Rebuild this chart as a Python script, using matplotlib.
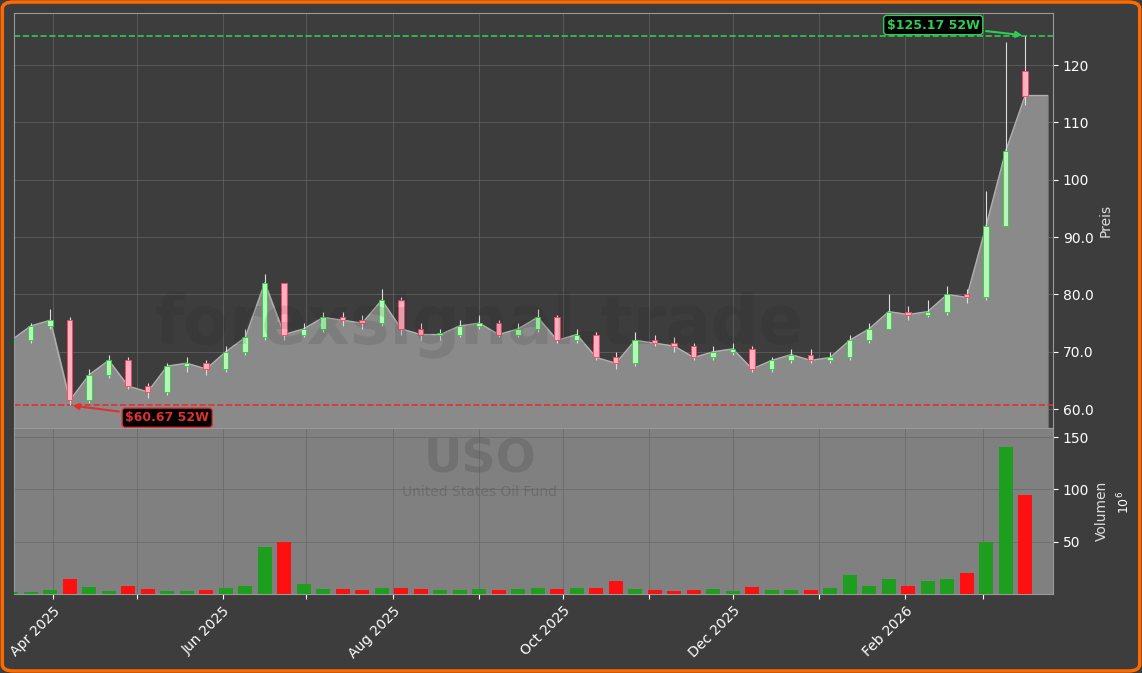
import matplotlib
matplotlib.use("Agg")
import matplotlib.pyplot as plt
import matplotlib.dates as mdates
import pandas as pd
import numpy as np
from matplotlib.patches import FancyBboxPatch

dates = pd.date_range("2025-03-17", periods=53, freq="W-MON")
close = [72, 74.5, 75.5, 61.5, 66, 68.5, 64, 63, 67.5, 68, 67, 70, 72.5, 82, 73, 74, 76, 75.5, 75, 79,
         74, 73, 73, 74.5, 75, 73, 74, 76, 72, 73, 69, 68, 72, 71.5, 71, 69, 70, 70.5, 67, 68.5,
         69.5, 68.5, 69, 72, 74, 77, 76.5, 77, 80, 79.5, 92, 105, 114.7]
opens = [71.5, 72, 74.5, 75.5, 61.5, 66, 68.5, 64, 63, 67.5, 68, 67, 70, 72.5, 82, 73, 74, 76, 75.5, 75,
         79, 74, 73, 73, 74.5, 75, 73, 74, 76, 72, 73, 69, 68, 72, 71.5, 71, 69, 70, 70.5, 67,
         68.5, 69.5, 68.5, 69, 72, 74, 77, 76.5, 77, 80, 79.5, 92, 119]
highs = [73, 75, 77.5, 76, 67, 69.5, 69, 64.5, 68, 69, 68.5, 71, 74, 83.5, 82, 75, 77, 77, 76.5, 81,
         79.5, 75, 74, 75.5, 76.5, 75.5, 75, 77.5, 76.5, 74, 73.5, 70, 73.5, 73, 72.5, 71.5, 71, 71.5, 71, 69,
         70.5, 70.5, 70, 73, 75, 80, 78, 79, 81.5, 81, 98, 124, 125.17]
lows = [71, 71.5, 74, 60.67, 61, 65.5, 63.5, 62, 62.5, 66.5, 66, 66.5, 69.5, 72, 72, 72.5, 73.5, 74.5, 74, 74.5,
        73, 72, 72, 72.5, 74, 72.5, 72.5, 73.5, 71.5, 71.5, 68.5, 67, 67.5, 71, 70, 68.5, 68.5, 69.5, 66.5, 66.5,
        68, 68, 68, 68.5, 71.5, 74, 75.5, 76, 76.5, 78.5, 79, 94, 113]
volume = [2, 2, 4, 14, 7, 3, 8, 5, 3, 3, 4, 6, 8, 45, 50, 10, 5, 5, 4, 6,
          6, 5, 4, 4, 5, 4, 5, 6, 5, 6, 6, 12, 5, 4, 3, 4, 5, 3, 7, 4,
          4, 4, 6, 18, 8, 14, 8, 12, 14, 20, 50, 140, 95]

BG = "#3d3d3d"
fig = plt.figure(figsize=(11.42, 6.73), dpi=100, facecolor=BG)
ax = fig.add_axes([14/1142, 1-428/673, 1039/1142, 415/673])
axv = fig.add_axes([14/1142, 1-594/673, 1039/1142, 166/673], sharex=ax)
ax.set_facecolor(BG)
axv.set_facecolor("#808080")

xmin = pd.Timestamp("2025-03-18"); xmax = pd.Timestamp("2026-03-26")
ax.set_xlim(xmin, xmax)
ax.set_ylim(56.7, 129.1)
axv.set_ylim(0, 158.6)

fill_x = list(dates) + [dates[-1] + pd.Timedelta(days=8)]
fill_y = close + [close[-1]]
ax.fill_between(fill_x, fill_y, 0, color="#8a8a8a", zorder=1)
ax.plot(fill_x, fill_y, color="#b0b0b0", lw=1, zorder=2)

for d, o, h, l, c in zip(dates, opens, highs, lows, close):
    up = c >= o
    col = "#2ecc40" if up else "#ff4060"
    fc = "#b8f5b8" if up else "#ffb0c0"
    ax.vlines(d, l, h, color="#dddddd", lw=0.8, zorder=3)
    ax.bar(d, abs(c - o) if abs(c - o) > 0.3 else 0.3, bottom=min(o, c), width=2.0,
           color=fc, edgecolor=col, lw=0.6, zorder=4)

vcols = ["#1e9e1e" if c >= o else "#ff1010" for o, c in zip(opens, close)]
axv.bar(dates, volume, width=5, color=vcols, zorder=3)

for a in (ax, axv):
    a.grid(True, color="#666666", lw=0.6, alpha=0.8)
    a.yaxis.tick_right()
    a.yaxis.set_label_position("right")
    a.tick_params(colors="white", labelsize=10)
    for s in a.spines.values():
        s.set_color("#999999")
ax.set_axisbelow(True)
ax.tick_params(axis="x", labelbottom=False)
ax.set_yticks([60, 70, 80, 90, 100, 110, 120])
ax.set_yticklabels(["60.0", "70.0", "80.0", "90.0", "100", "110", "120"])
ax.set_ylabel("Preis", color="#dddddd", fontsize=10)
axv.set_yticks([50, 100, 150])
axv.set_ylabel("Volumen", color="#dddddd", fontsize=10)
axv.text(1.06, 0.55, r"$10^6$", transform=axv.transAxes, rotation=90, color="white", fontsize=9, va="center")

loc = mdates.MonthLocator()
ticks = loc.tick_values(xmin, xmax)
labels = []
for t in ticks:
    dt = mdates.num2date(t)
    labels.append(dt.strftime("%b %Y") if dt.month % 2 == 0 else "")
axv.set_xticks(ticks)
axv.set_xticklabels(labels, rotation=45, ha="right", rotation_mode="anchor")
axv.set_xlim(xmin, xmax)

# max/min
ax.axhline(125.17, color="#2ecc55", ls="--", lw=1.2)
ax.axhline(60.67, color="#e03030", ls="--", lw=1.2)
ax.annotate("$125.17 52W", xy=(dates[-1], 125.17), xytext=(pd.Timestamp("2026-02-11"), 127.0),
            color="#2ecc55", fontsize=9, fontweight="bold", ha="center", va="center",
            bbox=dict(boxstyle="round,pad=0.25", fc="black", ec="#2ecc55"),
            arrowprops=dict(arrowstyle="-|>", color="#2ecc55", lw=1.5))
ax.annotate("$60.67 52W", xy=(dates[3], 60.67), xytext=(pd.Timestamp("2025-05-12"), 58.5),
            color="#e03030", fontsize=9, fontweight="bold", ha="center", va="center",
            bbox=dict(boxstyle="round,pad=0.25", fc="black", ec="#e03030"),
            arrowprops=dict(arrowstyle="-|>", color="#e03030", lw=1.5))

fig.text(0.42, 1-325/673, "forexsignal.trade", fontsize=48, fontweight="bold", color="#202020",
         alpha=0.12, ha="center", va="center", zorder=0.5)
fig.text(0.42, 1-460/673, "USO", fontsize=34, fontweight="bold", color="#555555", alpha=0.35,
         ha="center", va="center")
fig.text(0.42, 1-492/673, "United States Oil Fund", fontsize=10, color="#555555", alpha=0.45,
         ha="center", va="center")

fig.patches.append(FancyBboxPatch((0.002, 0.003), 0.996, 0.994, boxstyle="round,pad=0,rounding_size=0.01",
                                  transform=fig.transFigure, fc="none", ec="#ff6a00", lw=2.5))
fig.savefig("out.png", facecolor=BG)
